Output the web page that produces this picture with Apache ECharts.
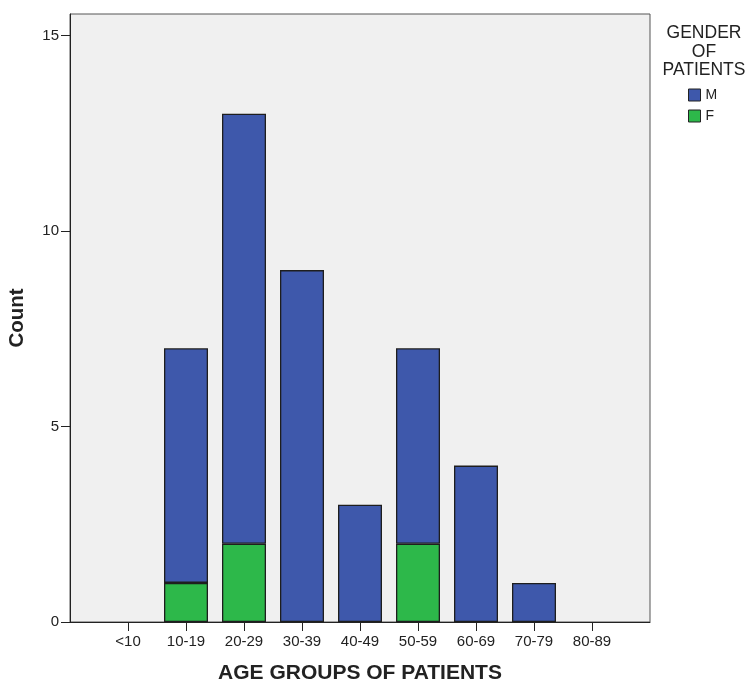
<!DOCTYPE html>
<html>
<head>
<meta charset="utf-8">
<script src="https://cdn.jsdelivr.net/npm/echarts@6/dist/echarts.min.js"></script>
<style>html,body{margin:0;padding:0;background:#fff}#c{width:748px;height:681px}</style>
</head>
<body>
<div id="c"></div>
<script>
const categories = ['', '<10', '10-19', '20-29', '30-39', '40-49', '50-59', '60-69', '70-79', '80-89', ''];
const maleCounts = [null, null, 6, 11, 9, 3, 5, 4, 1, null, null];
const femaleCounts = [null, null, 1, 2, null, null, 2, null, null, null, null];
const yTicks = [0, 5, 10, 15];

const chart = echarts.init(document.getElementById('c'));
const font = 'Liberation Sans, Arial, sans-serif';
chart.setOption({
  animation: false,
  backgroundColor: '#ffffff',
  title: {
    text: 'GENDER\nOF\nPATIENTS',
    left: 704, top: 24, textAlign: 'center', padding: 0,
    textStyle: { fontFamily: font, fontSize: 17.5, fontWeight: 'normal', color: '#222', lineHeight: 18.5, align: 'center' }
  },
  legend: {
    data: ['M', 'F'],
    orient: 'vertical',
    left: 688, top: 88, padding: 0,
    icon: 'rect', itemWidth: 12, itemHeight: 12, itemGap: 7,
    textStyle: { fontFamily: font, fontSize: 14, color: '#222' },
    itemStyle: { borderColor: '#222', borderWidth: 1 }
  },
  grid: { left: 70, right: 98, top: 14, bottom: 59, outerBoundsMode: 'none', containLabel: false,
    show: true, backgroundColor: '#f0f0f0', borderColor: '#555', borderWidth: 1 },
  xAxis: {
    type: 'category', data: categories, boundaryGap: false,
    name: 'AGE GROUPS OF PATIENTS', nameLocation: 'middle', nameGap: 41,
    nameTextStyle: { fontFamily: font, fontSize: 21, fontWeight: 'bold', color: '#222' },
    axisLine: { lineStyle: { color: '#222', width: 1 } },
    axisTick: { show: true, length: 9, lineStyle: { color: '#222' }, interval: function (i, v) { return v !== ''; } },
    axisLabel: { fontFamily: font, fontSize: 15, color: '#222', margin: 12, interval: 0 },
    splitLine: { show: false }
  },
  yAxis: {
    type: 'value', min: 0, max: 15.55, interval: 5,
    name: 'Count', nameLocation: 'middle', nameGap: 42, nameRotate: 90,
    nameTextStyle: { fontFamily: font, fontSize: 20.5, fontWeight: 'bold', color: '#222' },
    axisLine: { show: true, lineStyle: { color: '#222', width: 1 } },
    axisTick: { show: true, length: 9, lineStyle: { color: '#222' }, customValues: yTicks },
    axisLabel: { fontFamily: font, fontSize: 15, color: '#222', margin: 11, customValues: yTicks },
    splitLine: { show: false }
  },
  series: [
    { name: 'F', type: 'bar', stack: 'g', data: femaleCounts, barWidth: 44,
      itemStyle: { color: '#2db84a', borderColor: '#1e1e1e', borderWidth: 1.3 } },
    { name: 'M', type: 'bar', stack: 'g', data: maleCounts, barWidth: 44,
      itemStyle: { color: '#3e58ab', borderColor: '#1e1e1e', borderWidth: 1.3 } }
  ]
});
</script>
</body>
</html>
